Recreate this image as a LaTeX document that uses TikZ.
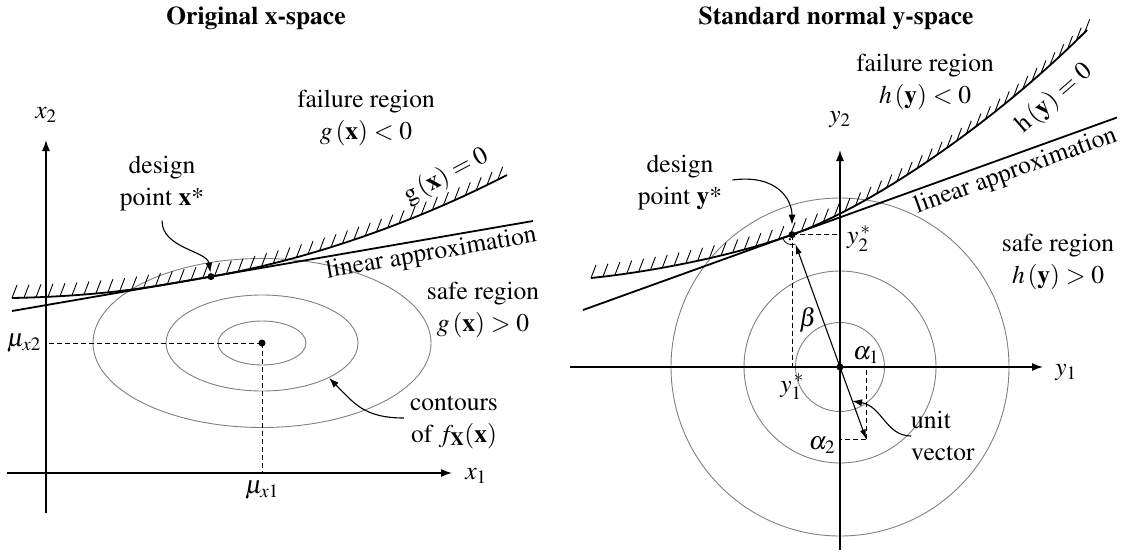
\documentclass[tikz,border=0pt]{standalone}
\usepackage[T1]{fontenc}
\usepackage{mathptmx}
\usepackage{tikz}
\usetikzlibrary{arrows.meta,positioning,calc,decorations.markings}

\begin{document}
\begin{tikzpicture}[x=1pt,y=-1pt,
  font=\fontsize{25.5}{32}\selectfont,
  axis/.style={line width=1.4pt,-{Latex[length=11pt,width=8pt]}},
  contour/.style={gray,line width=0.9pt},
  guide/.style={line width=0.9pt,dash pattern=on 5pt off 3pt},
  callout/.style={line width=1.1pt,-{Latex[length=10pt,width=7pt]}},
  vec/.style={line width=1.1pt,-{Latex[length=10pt,width=6pt]}},
  limit/.style={line width=1.8pt,postaction={decorate},
    decoration={markings,mark=between positions 0 and 1 step 12pt with
      {\pgftransformresetnontranslations\draw[line width=0.9pt] (0,0) -- (5,-13);}}},
  tangent/.style={line width=1.8pt},
  lbl/.style={align=center,inner sep=0pt},
  title/.style={font=\fontsize{25.5}{32}\selectfont\bfseries}]
\useasboundingbox (0,0) rectangle (1129,554);

%% left: original space
\node[title] (ltitle) at (256,18) {Original x-space};
\coordinate (xo) at (46,473);
\coordinate (mu) at (262,343);
\foreach \r in {44,96,169}{
  \draw[contour] (mu) ellipse[x radius=\r,y radius=\r/2];
}
\draw[axis] (7,473) -- (452,473);
\draw[axis] (46,513) -- (46,140);
\node (x1lab) at (476,476) {$x_1$};
\node (x2lab) at (46,115) {$x_2$};
\draw[guide] (mu) -- (mu -| xo);
\draw[guide] (mu) -- (mu |- xo);
\fill (mu) circle[radius=3.5];
\node[anchor=east,inner sep=0pt] (mux2) at ($(mu -| xo)+(-5,0)$) {$\mu_{x2}$};
\node[anchor=north,inner sep=0pt] (mux1) at ($(mu |- xo)+(0,8)$) {$\mu_{x1}$};

\draw[limit] (12,298) .. controls (110,296) and (161,285.3) .. (211,276.6)
  .. controls (311,259.3) and (417,221.4) .. (507,175);
\draw[tangent] (12,311) -- (533,221)
  node[pos=0.8,sloped,anchor=north,inner sep=3pt] (llin) {linear approximation};
\coordinate (xs) at (211,276.6);
\fill (xs) circle[radius=3.5];

\node[lbl] (xlab) at (162,184) {design\\point $\mathbf{x}$*};
\draw[callout,shorten >=4pt] ($(xlab.south)+(0,9)$) .. controls +(0,28) and +(-4,-26) .. (xs);
\node[lbl] (lfail) at (366,118) {failure region\\$g\,(\mathbf{x})<0$};
\node[rotate=28,inner sep=0pt] (gzero) at (446,176) {$\mathrm{g}\,(\mathbf{x})=0$};
\node[lbl] (lsafe) at (483,310) {safe region\\$g\,(\mathbf{x})>0$};
\node[lbl] (cnt) at (454,422) {contours\\of $f_{\mathbf{X}}(\mathbf{x})$};
\coordinate (onell) at (329,378);
\draw[callout] ($(cnt.west)+(-6,-4)$) .. controls +(-40,0) and +(25,25) .. (onell);

%% right: standard normal space
\node[title] (rtitle) at (836,18) {Standard normal y-space};
\coordinate (O) at (840,367);
\foreach \r in {44.5,96,169}{
  \draw[contour] (O) circle[radius=\r];
}
\draw[axis] (570,367) -- (1043,367);
\draw[axis] (840,550) -- (840,150);
\node (y1lab) at (1066,373) {$y_1$};
\node (y2lab) at (840,120) {$y_2$};

\draw[limit] (591,278) .. controls (650,272) and (732,256.3) .. (792,234.7)
  .. controls (882,202.3) and (1007,110.8) .. (1087,30);
\draw[tangent] (583,310) -- (1117,117.5)
  node[pos=0.8,sloped,anchor=north,inner sep=4pt] (rlin) {linear approximation};
\coordinate (ys) at (792,234.7);
\coordinate (u) at (866.3,439.4);
\coordinate (uhit) at (852,401);
\draw[guide] (ys) -- (ys -| O);
\draw[guide] (ys) -- (ys |- O);
\draw[guide] (u) -- (u |- O);
\draw[guide] (u) -- (u -| O);
\draw[vec,{Latex[length=10pt,width=6pt]}-,shorten <=10pt] (ys) -- (O);
\draw[vec] (O) -- (u);
\draw[line width=0.8pt] ($(ys)+(70.2:10)$) arc[start angle=70.2,end angle=160.2,radius=10];
\fill ($(ys)+(115.2:5)$) circle[radius=1.3];
\fill (O) circle[radius=3.5];
\fill (ys) circle[radius=3.5];

\node[anchor=west,inner sep=0pt] (y2s) at ($(ys -| O)+(7,4)$) {$y_2^{\,*}$};
\node[anchor=north,inner sep=0pt] (y1s) at ($(ys |- O)+(0,7)$) {$y_1^{\,*}$};
\node (beta) at (808,320) {$\beta$};
\node (a1) at (866,355) {$\alpha_1$};
\node (a2) at (822,445) {$\alpha_2$};

\node[lbl] (ylab) at (680,183) {design\\point $\mathbf{y}$*};
\draw[callout,shorten >=10pt] ($(ylab.east)+(10,-3)$) .. controls +(45,-6) and +(0,-35) .. (ys);
\node[lbl] (rfail) at (925,82) {failure region\\$h\,(\mathbf{y})<0$};
\node[rotate=41,inner sep=0pt] (hzero) at (1054,99) {$\mathrm{h}\,(\mathbf{y})=0$};
\node[lbl] (rsafe) at (1058,262) {safe region\\$h\,(\mathbf{y})>0$};
\node[lbl,align=left,anchor=west] (uv) at (911,436) {unit\\vector};
\draw[callout] (uv.west) .. controls +(-25,0) and +(30,5) .. (uhit);
\end{tikzpicture}
\end{document}
